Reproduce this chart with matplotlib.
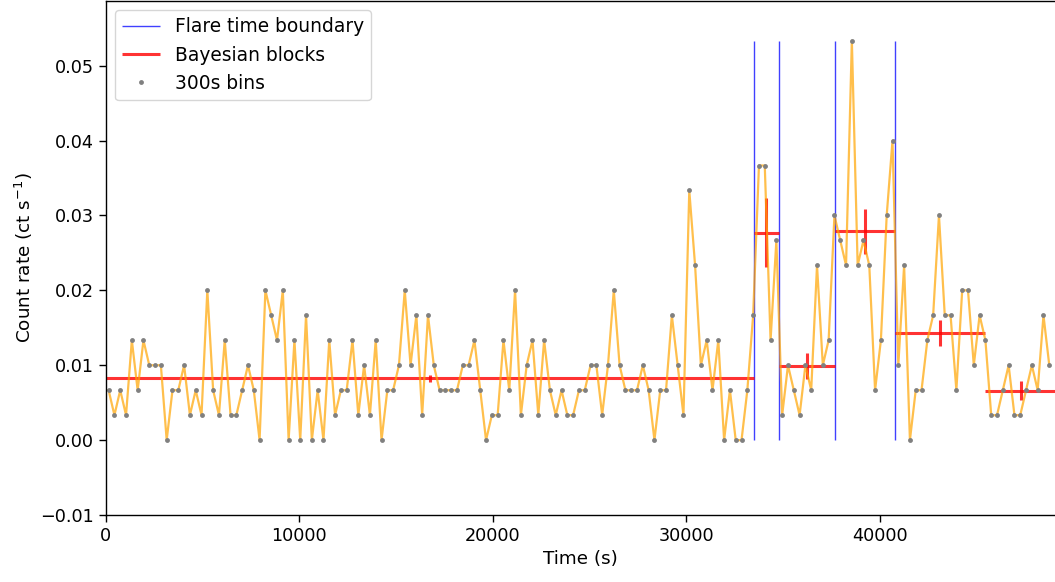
import numpy as np
import matplotlib
matplotlib.use("Agg")
import matplotlib.pyplot as plt

# counts per 300 s bin
bin_width = 300
counts = [2, 1, 2, 1, 4, 2, 4, 3, 3, 3, 0, 2, 2, 3, 1, 2, 1, 6, 2, 1, 4, 1,
          1, 2, 3, 2, 0, 6, 5, 4, 6, 0, 4, 0, 5, 0, 2, 0, 4, 1, 2, 2,
          4, 1, 3, 1, 4, 0, 2, 2, 3, 6, 3, 5, 1, 5, 3, 2, 2, 2, 2, 3, 3,
          4, 2, 0, 1, 1, 4, 2, 6, 1, 3, 4, 1, 4, 2, 1, 2, 1, 1, 2, 2, 3,
          3, 1, 3, 6, 3, 2, 2, 2, 3, 2, 0, 2, 2, 5, 3, 1, 10, 7, 3, 4, 2,
          4, 0, 2, 0, 0, 2, 5, 11, 11, 4, 8, 1, 3, 2, 1, 3, 2, 7, 3, 4,
          9, 8, 7, 16, 7, 8, 7, 2, 4, 9, 12, 3, 7, 0, 2, 2, 4, 5, 9, 5, 5,
          2, 6, 6, 3, 5, 4, 1, 1, 2, 3, 1, 1, 2, 3, 2, 5, 3]
t = bin_width * (np.arange(len(counts)) + 0.5)
rate = np.array(counts) / bin_width

# bayesian blocks
edges = [0, 33500, 34760, 37660, 40780, 45430, 49100]
block_rate = [0.00825, 0.0277, 0.0099, 0.0279, 0.0143, 0.0066]
block_err = [0.00049, 0.0046, 0.0018, 0.0030, 0.0017, 0.0013]

flare_bounds = [33500, 34760, 37660, 40780]

fs = 12.7
plt.rcParams['font.size'] = fs

fig = plt.figure(figsize=(10.55, 5.82), dpi=100)
ax = fig.add_axes([0.1002, 0.1151, 0.9008, 0.8840])

ax.vlines(flare_bounds, 0, rate.max(), color='blue', lw=1, alpha=0.75,
          label='Flare time boundary')

starts = np.array(edges[:-1])
ends = np.array(edges[1:])
mids = (starts + ends) / 2
br = np.array(block_rate)
be = np.array(block_err)
ax.hlines(br, starts, ends, color='red', lw=2.2, alpha=0.8, label='Bayesian blocks')
ax.vlines(mids, br - be, br + be, color='red', lw=2.2, alpha=0.8)

ax.plot(t, rate, color='orange', lw=1.6, alpha=0.7)
ax.plot(t, rate, 'o', color='grey', ms=3.5, mew=0, label='300s bins')

ax.set_xlim(0, 49100)
ax.set_ylim(-0.01, 0.0587)
ax.set_xlabel("Time (s)", fontsize=13.2)
ax.set_ylabel("Count rate (ct s$^{-1}$)", fontsize=13.2)
ax.tick_params(length=5, width=1)
for s in ax.spines.values():
    s.set_linewidth(1)

ax.legend(loc='upper left', fontsize=13.4)

plt.savefig("out.png", dpi=100)
